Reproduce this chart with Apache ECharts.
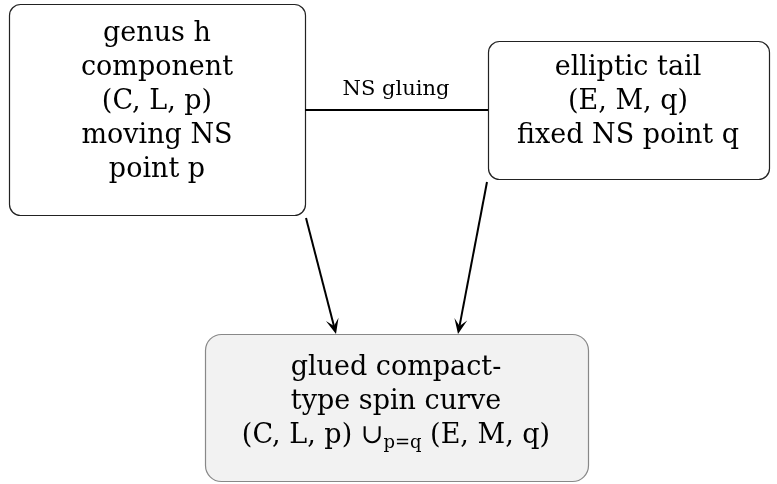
<!DOCTYPE html>
<html lang="en">
    <head>
        <meta charset="UTF-8" />
        <title>NS gluing</title>
        <script src="https://cdn.jsdelivr.net/npm/echarts@6/dist/echarts.min.js"></script>
        <style>
            body {
                margin: 0;
                padding: 0;
            }
            #chart {
                width: 777px;
                height: 484px;
            }
        </style>
    </head>
    <body>
        <div id="chart"></div>
        <script>
            // box texts
            let leftBoxLines = ['genus h', 'component', '(C, L, p)', 'moving NS', 'point p'];
            let rightBoxLines = ['elliptic tail', '(E, M, q)', 'fixed NS point q'];
            let bottomBoxLines = ['glued compact-', 'type spin curve', '(C, L, p) ∪{sub|p=q} (E, M, q)'];
            let edgeLabel = 'NS gluing';

            let font = '"DejaVu Serif", serif';
            let lineGap = 34;

            function box(x, y, w, h, r, fill, stroke) {
                return {
                    type: 'rect',
                    shape: { x: x, y: y, width: w, height: h, r: r },
                    style: { fill: fill, stroke: stroke, lineWidth: 1.2 }
                };
            }

            function lines(list, cx, firstY) {
                return list.map((t, i) => ({
                    type: 'text',
                    x: cx,
                    y: firstY + i * lineGap,
                    style: {
                        text: t,
                        font: '27px ' + font,
                        fill: '#000',
                        align: 'center',
                        verticalAlign: 'middle',
                        rich: {
                            sub: { fontSize: 18, fontFamily: font, padding: [15, 0, 0, 0] }
                        }
                    }
                }));
            }

            function arrow(x1, y1, x2, y2) {
                let dx = x2 - x1;
                let dy = y2 - y1;
                let len = Math.sqrt(dx * dx + dy * dy);
                let ux = dx / len;
                let uy = dy / len;
                let px = -uy;
                let py = ux;
                let hl = 15;
                let hw = 6.5;
                let bx = x2 - ux * hl;
                let by = y2 - uy * hl;
                let mx = x2 - ux * hl * 0.55;
                let my = y2 - uy * hl * 0.55;
                return [
                    {
                        type: 'line',
                        shape: { x1: x1, y1: y1, x2: mx, y2: my },
                        style: { stroke: '#000', lineWidth: 2 }
                    },
                    {
                        type: 'polygon',
                        shape: {
                            points: [
                                [x2, y2],
                                [bx + px * hw, by + py * hw],
                                [mx, my],
                                [bx - px * hw, by - py * hw]
                            ]
                        },
                        style: { fill: '#000' }
                    }
                ];
            }

            let elements = [];
            elements.push(box(9.5, 4.5, 296, 211, 11, '#fff', '#222'));
            elements.push(box(488.5, 41.5, 281, 138, 11, '#fff', '#222'));
            elements.push(box(205.5, 334.5, 383, 147, 16, '#f2f2f2', '#888'));
            elements.push({
                type: 'line',
                shape: { x1: 305, y1: 110, x2: 488, y2: 110 },
                style: { stroke: '#000', lineWidth: 2 }
            });
            elements.push({
                type: 'text',
                x: 396,
                y: 90,
                style: {
                    text: edgeLabel,
                    font: '21px ' + font,
                    fill: '#000',
                    align: 'center',
                    verticalAlign: 'middle'
                }
            });
            elements = elements.concat(arrow(306, 218, 336, 334));
            elements = elements.concat(arrow(487, 182, 458, 334));
            elements = elements.concat(lines(leftBoxLines, 157, 34));
            elements = elements.concat(lines(rightBoxLines, 628, 68));
            elements = elements.concat(lines(bottomBoxLines, 396, 368));

            let myChart = echarts.init(document.getElementById('chart'));
            myChart.setOption({
                animation: false,
                backgroundColor: '#fff',
                graphic: { elements: elements }
            });
        </script>
    </body>
</html>
